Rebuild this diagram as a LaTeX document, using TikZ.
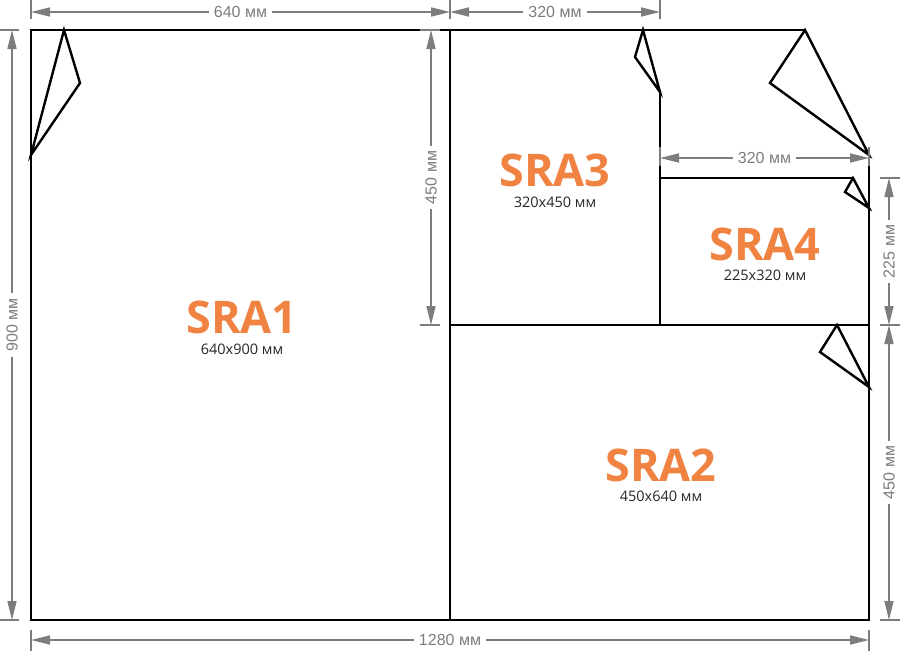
\documentclass[tikz,border=0pt]{standalone}
\usepackage{fontspec}
\setmainfont{Open Sans}
\newfontfamily\dimfont{Liberation Sans}
\usetikzlibrary{arrows.meta}
\definecolor{sraorange}{RGB}{240,131,66}
\definecolor{dimgray}{RGB}{125,125,125}
\tikzset{
  sheet/.style={line width=2.7pt, black},
  fold/.style={line width=2.4pt, black, line join=miter},
  dimline/.style={dimgray, line width=1.4pt, {Triangle[length=19pt,width=9pt]}-{Triangle[length=19pt,width=9pt]}},
  dimtick/.style={dimgray, line width=1.4pt},
  dimtext/.style={fill=white, text=dimgray, inner xsep=5pt, inner ysep=2pt, font=\dimfont\fontsize{16}{18}\selectfont},
  sraname/.style={text=sraorange, inner sep=0pt, font=\bfseries\fontsize{45}{48}\selectfont},
  sizetext/.style={text=black!85, inner sep=0pt, font=\fontsize{14.5}{16}\selectfont}
}
\begin{document}
\begin{tikzpicture}[x=1pt,y=-1pt]
	\useasboundingbox (0,0) rectangle (900,651);

            % sheets
            \draw[sheet] (869,155) -- (869,620) -- (31,620) -- (31,30) -- (805,30);
            \draw[sheet] (450,30) -- (450,620);
            \draw[sheet] (450,325) -- (869,325);
            \draw[sheet] (660,92) -- (660,325);
            \draw[sheet] (660,178) -- (853,178);

            \foreach \ax/\ay/\bx/\by/\cx/\cy in {64/30/80/83/31/155, 643/30/635/57/660/92, 805/30/770/83/869/155, 853/178/845/192/869/208, 837/325/820/352/869/387}{
              \draw[fold] (\ax,\ay) -- (\bx,\by) -- (\cx,\cy) -- cycle;
            }

            % dimensions
            \coordinate (top0) at (31,12);
            \coordinate (top1) at (450,12);
            \coordinate (top2) at (660,12);
            \coordinate (left0) at (12,30);
            \coordinate (left1) at (12,620);
            \coordinate (mid0) at (431,30);
            \coordinate (mid1) at (431,325);
            \coordinate (inn0) at (660,158);
            \coordinate (inn1) at (869,158);
            \coordinate (right0) at (889,178);
            \coordinate (right1) at (889,325);
            \coordinate (right2) at (889,620);
            \coordinate (bot0) at (31,640);
            \coordinate (bot1) at (869,640);

            \foreach \x/\ya/\yb in {31/0/19, 450/0/19, 660/0/19, 660/147/166, 869/147/166, 31/630/651, 869/630/651}{
              \draw[dimtick] (\x,\ya) -- (\x,\yb);
            }
            \foreach \y/\xa/\xb in {30/0/19, 620/0/19, 30/420/440, 325/420/440, 178/880/900, 325/880/900, 620/880/900}{
              \draw[dimtick] (\xa,\y) -- (\xb,\y);
            }

            \draw[dimline] (top0) -- node[dimtext] (w640) {640 мм} (top1);
            \draw[dimline] (top1) -- node[dimtext] (w320) {320 мм} (top2);
            \draw[dimline] (left0) -- node[dimtext, rotate=90] (h900) {900 мм} (left1);
            \draw[dimline] (mid0) -- node[dimtext, rotate=90] (h450) {450 мм} (mid1);
            \draw[dimline] (inn0) -- node[dimtext] (w320b) {320 мм} (inn1);
            \draw[dimline] (right0) -- node[dimtext, rotate=90] (h225) {225 мм} (right1);
            \draw[dimline] (right1) -- node[dimtext, rotate=90] (h450b) {450 мм} (right2);
            \draw[dimline] (bot0) -- node[dimtext] (w1280) {1280 мм} (bot1);

            % formats
            \node[sraname] (sra1) at (242,317) {SRA1};
            \node[sizetext] (sra1size) at (242,349) {640x900 мм};
            \node[sraname] (sra3) at (555,170) {SRA3};
            \node[sizetext] (sra3size) at (555,202) {320x450 мм};
            \node[sraname] (sra4) at (765,244) {SRA4};
            \node[sizetext] (sra4size) at (765,275) {225x320 мм};
            \node[sraname] (sra2) at (661,465) {SRA2};
            \node[sizetext] (sra2size) at (661,496) {450x640 мм};
        \end{tikzpicture}
\end{document}
